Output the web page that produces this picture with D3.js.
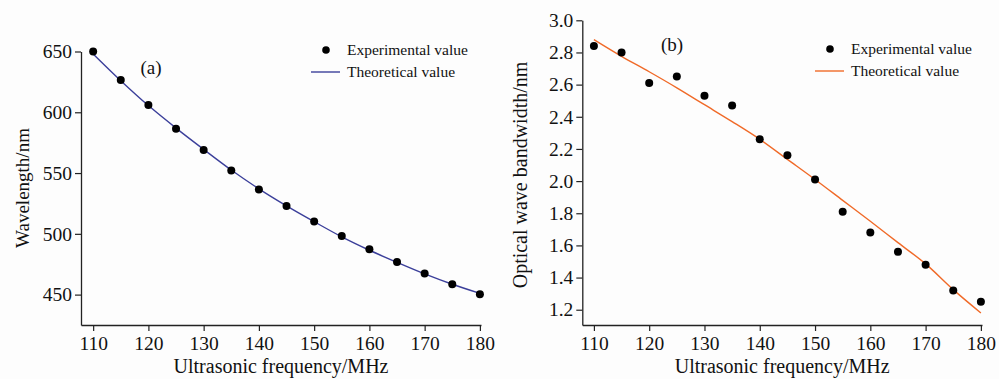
<!DOCTYPE html>
<html>
<head>
<meta charset="utf-8">
<script src="https://cdn.jsdelivr.net/npm/d3@7"></script>
<style>
  body { margin: 0; background: #fdfdfd; }
  svg text { font-family: "Liberation Serif", "Times New Roman", serif; }
</style>
</head>
<body>
<div id="canvas"></div>
<script>
// data
const freq = [110, 115, 120, 125, 130, 135, 140, 145, 150, 155, 160, 165, 170, 175, 180];
const xTicks = [110, 120, 130, 140, 150, 160, 170, 180];

const waveExp = [650, 626.5, 606, 586.5, 569, 552, 536.5, 522.8, 510.2, 498.2, 487.3, 476.9, 467.4, 458.6, 450.2];
const waveTheo = [648, 626, 605.5, 587, 569.5, 552.5, 537, 523, 510, 497.5, 486.5, 476.5, 467, 458.5, 451];
const waveTicks = [450, 500, 550, 600, 650];

const bwExp = [2.84, 2.80, 2.61, 2.65, 2.53, 2.47, 2.26, 2.16, 2.01, 1.81, 1.68, 1.56, 1.48, 1.32, 1.25];
const bwTheo = [2.88, 2.776, 2.68, 2.58, 2.475, 2.37, 2.26, 2.135, 2.01, 1.88, 1.75, 1.617, 1.485, 1.325, 1.18];
const bwTicks = [1.2, 1.4, 1.6, 1.8, 2.0, 2.2, 2.4, 2.6, 2.8, 3.0];

const W = 999, H = 379;
const FONT = '"Liberation Serif", "Times New Roman", serif';
const svg = d3.select("#canvas").append("svg").attr("width", W).attr("height", H);
svg.append("rect").attr("width", W).attr("height", H).attr("fill", "#fdfdfd");

const panels = [
  {
    x0: 81, x1: 481, xDom: [107.8, 180.2],
    yTop: 51.5, yDom: [425, 650], ticks: waveTicks, fmt: d3.format("d"),
    exp: waveExp, theo: waveTheo, color: "#3b3f9a",
    yTitle: "Wavelength/nm", yTitleSize: 19, yTitleX: 22, yTitleY: 188,
    tag: "(a)", tagX: 151, tagY: 74,
    legX: 326, legY: 50
  },
  {
    x0: 582.3, x1: 982, xDom: [107.9, 180.2],
    yTop: 20.3, yDom: [1.105, 3.0], ticks: bwTicks, fmt: d3.format(".1f"),
    exp: bwExp, theo: bwTheo, color: "#f06a28",
    yTitle: "Optical wave bandwidth/nm", yTitleSize: 20, yTitleX: 520, yTitleY: 175,
    tag: "(b)", tagX: 672, tagY: 51,
    legX: 830, legY: 49
  }
];

const yBottom = 325;

panels.forEach(p => {
  const x = d3.scaleLinear().domain(p.xDom).range([p.x0, p.x1]);
  const y = d3.scaleLinear().domain(p.yDom).range([yBottom, p.yTop]);
  const g = svg.append("g");

  const xAxis = g.append("g")
    .attr("transform", `translate(0,${yBottom})`)
    .call(d3.axisBottom(x).tickValues(xTicks).tickSize(6).tickPadding(5).tickSizeOuter(0));
  const yAxis = g.append("g")
    .attr("transform", `translate(${p.x0},0)`)
    .call(d3.axisLeft(y).tickValues(p.ticks).tickFormat(p.fmt).tickSize(6).tickPadding(3).tickSizeOuter(0));

  [xAxis, yAxis].forEach(a => {
    a.attr("font-family", FONT).attr("font-size", 19.5);
    a.select(".domain").attr("stroke", "#222").attr("stroke-width", 1.3);
    a.selectAll(".tick line").attr("stroke", "#222").attr("stroke-width", 1.2);
    a.selectAll(".tick text").attr("fill", "#111")
      .style("font-family", FONT).style("font-size", "19.5px");
  });

  // theoretical curve
  const line = d3.line()
    .x((d, i) => x(freq[i]))
    .y(d => y(d))
    .curve(d3.curveMonotoneX);
  g.append("path")
    .datum(p.theo)
    .attr("d", line)
    .attr("fill", "none")
    .attr("stroke", p.color)
    .attr("stroke-width", 1.4);

  // experimental points
  g.selectAll("circle.pt")
    .data(p.exp)
    .enter()
    .append("circle")
    .attr("class", "pt")
    .attr("cx", (d, i) => x(freq[i]))
    .attr("cy", d => y(d))
    .attr("r", 4)
    .attr("fill", "#000");

  // titles
  g.append("text")
    .attr("x", (p.x0 + p.x1) / 2)
    .attr("y", 373)
    .attr("text-anchor", "middle")
    .style("font-size", "20px")
    .attr("fill", "#111")
    .text("Ultrasonic frequency/MHz");

  g.append("text")
    .attr("transform", `translate(${p.yTitleX},${p.yTitleY}) rotate(-90)`)
    .attr("text-anchor", "middle")
    .attr("dy", "0.35em")
    .style("font-size", p.yTitleSize + "px")
    .attr("fill", "#111")
    .text(p.yTitle);

  g.append("text")
    .attr("x", p.tagX)
    .attr("y", p.tagY)
    .attr("text-anchor", "middle")
    .style("font-size", "19px")
    .attr("fill", "#111")
    .text(p.tag);

  // legend
  const leg = g.append("g");
  leg.append("circle").attr("cx", p.legX).attr("cy", p.legY).attr("r", 3.8).attr("fill", "#000");
  leg.append("text").attr("x", p.legX + 21).attr("y", p.legY + 5)
    .style("font-size", "15.5px").attr("fill", "#111").text("Experimental value");
  leg.append("line")
    .attr("x1", p.legX - 15).attr("x2", p.legX + 14)
    .attr("y1", p.legY + 22).attr("y2", p.legY + 22)
    .attr("stroke", p.color).attr("stroke-width", 1.4);
  leg.append("text").attr("x", p.legX + 21).attr("y", p.legY + 27)
    .style("font-size", "15.5px").attr("fill", "#111").text("Theoretical value");
});
</script>
</body>
</html>
